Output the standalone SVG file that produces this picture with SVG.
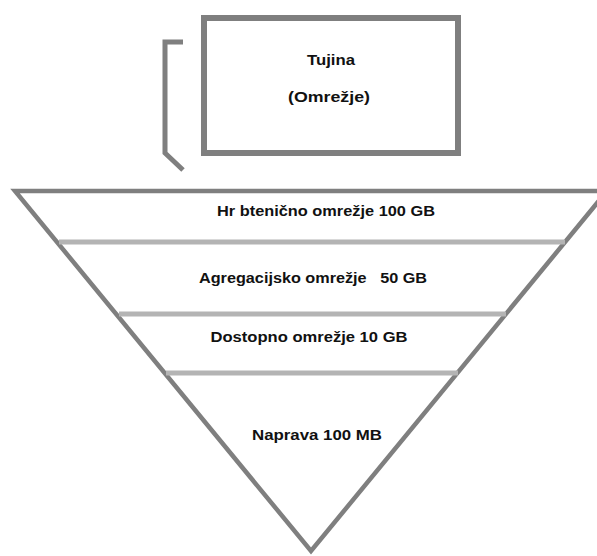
<svg xmlns="http://www.w3.org/2000/svg" width="597" height="556" viewBox="0 0 597 556">
<style>
.edge{fill:none;stroke:#7f7f7f;stroke-linejoin:miter}
.band{stroke:#b4b4b4;stroke-width:5}
text{font-family:"Liberation Sans",Arial,sans-serif;font-weight:bold;font-size:14.5px;fill:#111;text-anchor:middle}
</style>
<rect width="597" height="556" fill="#fff"/>
<g id="connectors">
<polyline class="edge" stroke-width="5" points="183,42 165,42 165,153 183,170"/>
</g>
<g id="tujina">
<rect class="edge" stroke-width="6" x="204" y="18" width="254" height="135"/>
<text x="331" y="65" textLength="48" lengthAdjust="spacingAndGlyphs">Tujina</text>
<text x="329" y="102" textLength="82" lengthAdjust="spacingAndGlyphs">(Omrežje)</text>
</g>
<g id="pyramid">
<polygon class="edge" stroke-width="4.5" points="15,191 607,191 311,551"/>
</g>
<g id="hrbtenicno">
<text x="326" y="216" textLength="218" lengthAdjust="spacingAndGlyphs">Hr btenično omrežje 100 GB</text>
<line class="band" x1="59" y1="242" x2="565" y2="242"/>
</g>
<g id="agregacijsko">
<text x="313" y="283" textLength="228" lengthAdjust="spacingAndGlyphs" xml:space="preserve">Agregacijsko omrežje   50 GB</text>
<line class="band" x1="119" y1="314" x2="506" y2="314"/>
</g>
<g id="dostopno">
<text x="309" y="342" textLength="197" lengthAdjust="spacingAndGlyphs">Dostopno omrežje 10 GB</text>
<line class="band" x1="166" y1="373" x2="458" y2="373"/>
</g>
<g id="naprava">
<text x="317" y="440" textLength="130" lengthAdjust="spacingAndGlyphs">Naprava 100 MB</text>
</g>
</svg>
